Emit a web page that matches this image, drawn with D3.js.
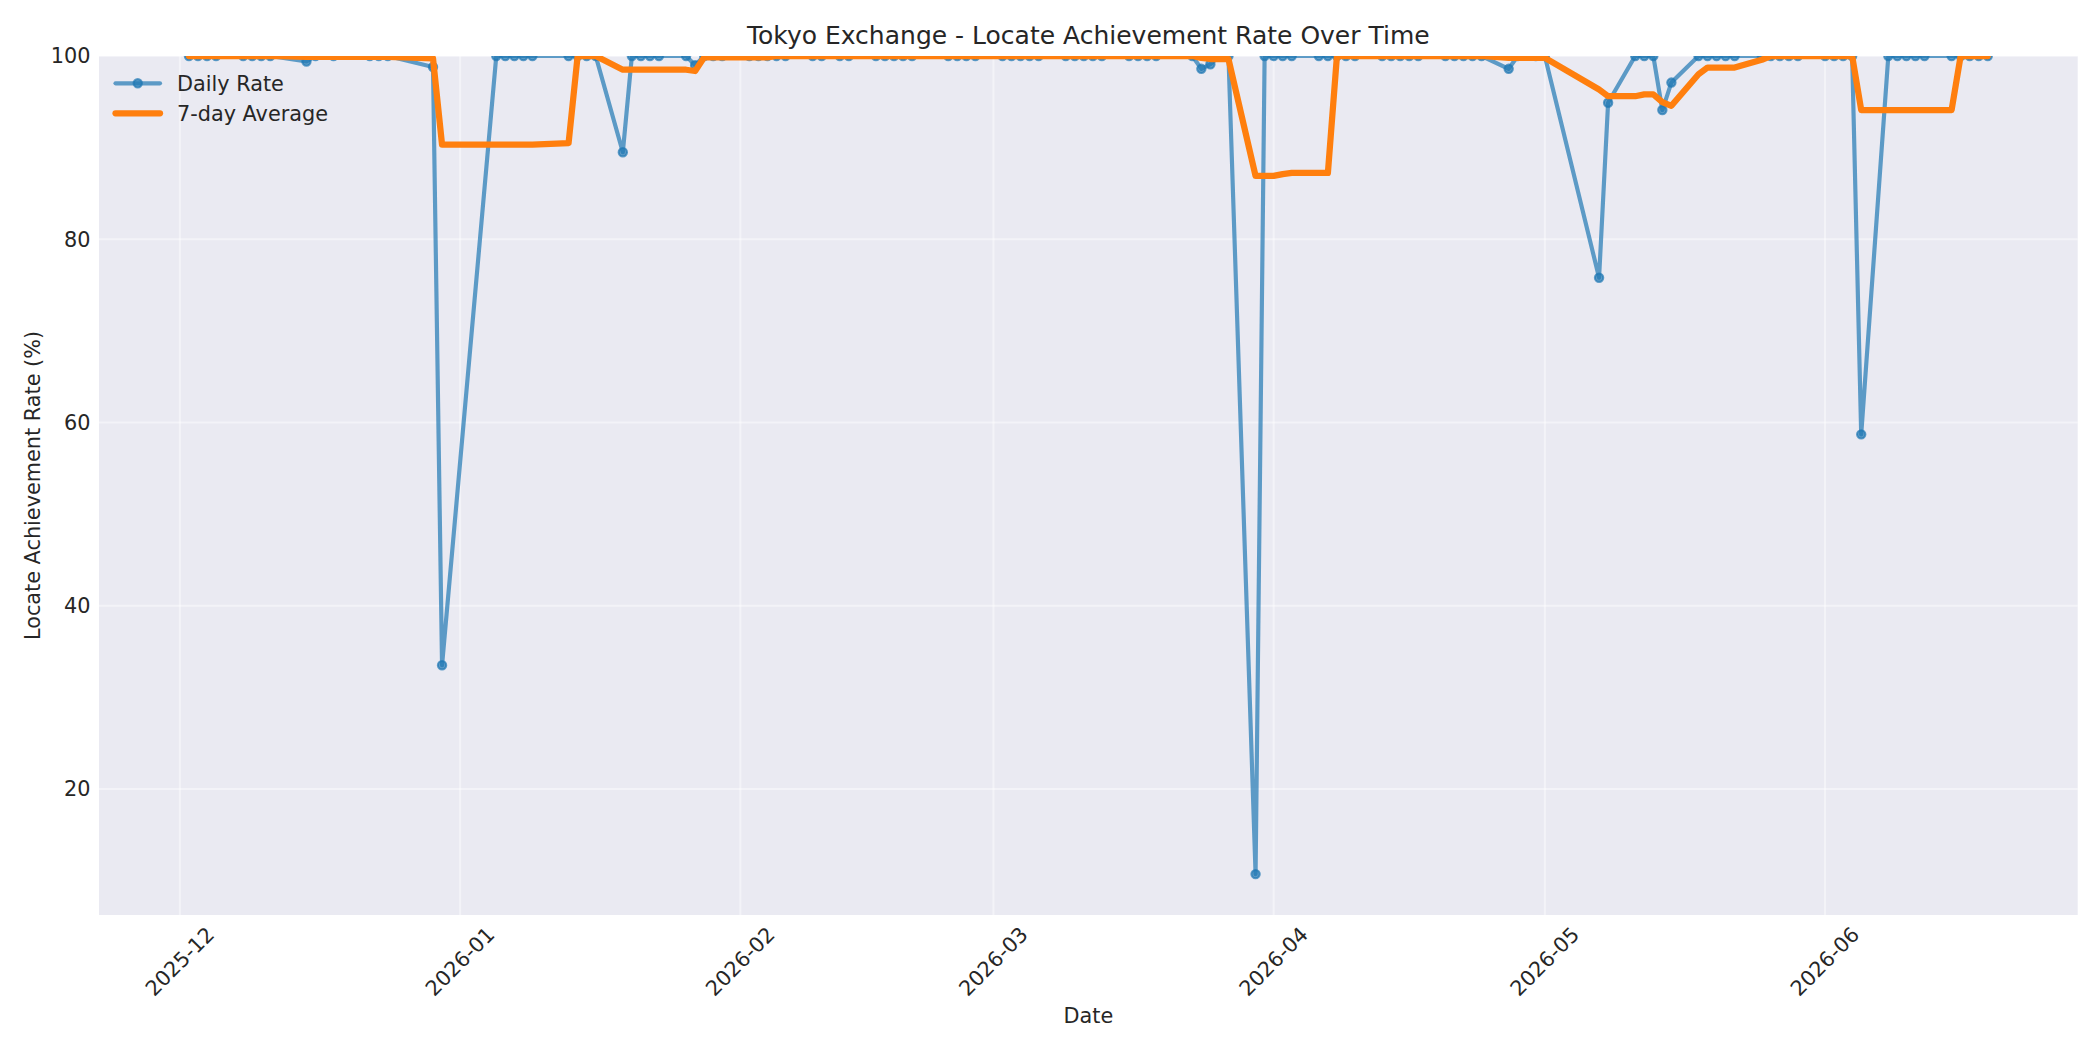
<!DOCTYPE html>
<html>
<head>
<meta charset="utf-8">
<script src="https://cdn.jsdelivr.net/npm/d3@7"></script>
<style>
  body { margin: 0; background: #ffffff; }
  text { font-family: "DejaVu Sans", sans-serif; fill: #262626; }
</style>
</head>
<body>
<svg id="chart" width="2100" height="1050"></svg>
<script>
// trading days (Tokyo calendar)
const dates = [
  "2025-12-02","2025-12-03","2025-12-04","2025-12-05","2025-12-08","2025-12-09","2025-12-10","2025-12-11",
  "2025-12-15","2025-12-16","2025-12-18","2025-12-22","2025-12-23","2025-12-24","2025-12-29","2025-12-30",
  "2026-01-05","2026-01-06","2026-01-07","2026-01-08","2026-01-09","2026-01-13","2026-01-14","2026-01-15",
  "2026-01-16","2026-01-19","2026-01-20","2026-01-21","2026-01-22","2026-01-23","2026-01-26","2026-01-27",
  "2026-01-28","2026-01-29","2026-01-30",
  "2026-02-02","2026-02-03","2026-02-04","2026-02-05","2026-02-06","2026-02-09","2026-02-10","2026-02-12",
  "2026-02-13","2026-02-16","2026-02-17","2026-02-18","2026-02-19","2026-02-20","2026-02-24","2026-02-25",
  "2026-02-26","2026-02-27",
  "2026-03-02","2026-03-03","2026-03-04","2026-03-05","2026-03-06","2026-03-09","2026-03-10","2026-03-11",
  "2026-03-12","2026-03-13","2026-03-16","2026-03-17","2026-03-18","2026-03-19","2026-03-23","2026-03-24",
  "2026-03-25","2026-03-26","2026-03-27","2026-03-30","2026-03-31",
  "2026-04-01","2026-04-02","2026-04-03","2026-04-06","2026-04-07","2026-04-08","2026-04-09","2026-04-10",
  "2026-04-13","2026-04-14","2026-04-15","2026-04-16","2026-04-17","2026-04-20","2026-04-21","2026-04-22",
  "2026-04-23","2026-04-24","2026-04-27","2026-04-28","2026-04-30",
  "2026-05-01","2026-05-07","2026-05-08","2026-05-11","2026-05-12","2026-05-13","2026-05-14","2026-05-15",
  "2026-05-18","2026-05-19","2026-05-20","2026-05-21","2026-05-22","2026-05-25","2026-05-26","2026-05-27",
  "2026-05-28","2026-05-29",
  "2026-06-01","2026-06-02","2026-06-03","2026-06-04","2026-06-05","2026-06-08","2026-06-09","2026-06-10",
  "2026-06-11","2026-06-12","2026-06-15","2026-06-16","2026-06-17","2026-06-18","2026-06-19"
];

const dailyRate = [
  // Dec
  100,100,100,100,100,100,100,100,99.4,100,100,100,100,100,98.8,33.5,
  // Jan
  100,100,100,100,100,100,100,100,100,89.5,100,100,100,100,100,99.0,100,100,100,
  // Feb
  100,100,100,100,100,100,100,100,100,100,100,100,100,100,100,100,100,100,
  // Mar
  100,100,100,100,100,100,100,100,100,100,100,100,100,100,100,98.6,99.1,100,100,10.7,100,
  // Apr
  100,100,100,100,100,100,100,100,100,100,100,100,100,100,100,100,100,100,98.6,100,100,
  // May
  100,75.8,94.9,100,100,100,94.1,97.1,100,100,100,100,100,100,100,100,100,100,
  // Jun
  100,100,100,100,58.7,100,100,100,100,100,100,100,100,100,100
];

const avgRate = [
  // Dec
  100,100,100,100,100,100,100,100,99.91,99.91,99.91,99.91,99.91,99.91,99.74,90.33,
  // Jan
  90.33,90.33,90.33,90.33,90.33,90.5,100,100,100,98.5,98.5,98.5,98.5,98.5,98.5,98.36,99.86,99.86,99.86,
  // Feb
  99.86,99.86,99.86,100,100,100,100,100,100,100,100,100,100,100,100,100,100,100,
  // Mar
  100,100,100,100,100,100,100,100,100,100,100,100,100,100,100,99.8,99.67,99.67,99.67,86.91,86.91,
  // Apr
  86.91,87.11,87.24,87.24,87.24,100,100,100,100,100,100,100,100,100,100,100,100,100,99.8,99.8,99.8,
  // May
  99.8,96.34,95.61,95.61,95.81,95.81,94.97,94.56,98.01,98.74,98.74,98.74,98.74,99.59,100,100,100,100,
  // Jun
  100,100,100,100,94.1,94.1,94.1,94.1,94.1,94.1,94.1,100,100,100,100
];

const monthTicks = ["2025-12","2026-01","2026-02","2026-03","2026-04","2026-05","2026-06"];
const yTicks = [20, 40, 60, 80, 100];
const seriesNames = ["Daily Rate", "7-day Average"];
const colors = ["#1f77b4", "#ff7f0e"];

const parseDay = d3.utcParse("%Y-%m-%d");
const parseMonth = d3.utcParse("%Y-%m");

const rows = dates.map((d, i) => ({ date: parseDay(d), daily: dailyRate[i], avg: avgRate[i] }));

const plot = { left: 99, right: 2077.7, top: 56, bottom: 915 };
const fontSize = 20.8;

const svg = d3.select("#chart");
svg.append("rect").attr("width", 2100).attr("height", 1050).attr("fill", "#ffffff");

// scales with matplotlib-like 5% margins
const t0 = rows[0].date, t1 = rows[rows.length - 1].date;
const pad = (t1 - t0) * 0.05;
const x = d3.scaleUtc()
  .domain([new Date(+t0 - pad), new Date(+t1 + pad)])
  .range([plot.left, plot.right]);

const yMin = d3.min(dailyRate);
const y = d3.scaleLinear()
  .domain([yMin - 0.05 * (100 - yMin), 100])
  .range([plot.bottom, plot.top]);

svg.append("rect")
  .attr("x", plot.left).attr("y", plot.top)
  .attr("width", plot.right - plot.left).attr("height", plot.bottom - plot.top)
  .attr("fill", "#eaeaf2");

svg.append("clipPath").attr("id", "clip")
  .append("rect")
  .attr("x", plot.left).attr("y", plot.top)
  .attr("width", plot.right - plot.left).attr("height", plot.bottom - plot.top);

// grid
const grid = svg.append("g").attr("stroke", "#ffffff").attr("stroke-width", 2).attr("stroke-opacity", 0.45);
grid.selectAll(".vg").data(monthTicks).enter().append("line")
  .attr("x1", d => x(parseMonth(d))).attr("x2", d => x(parseMonth(d)))
  .attr("y1", plot.top).attr("y2", plot.bottom);
grid.selectAll(".hg").data(yTicks).enter().append("line")
  .attr("x1", plot.left).attr("x2", plot.right)
  .attr("y1", d => y(d)).attr("y2", d => y(d));

// y tick labels
svg.append("g").selectAll("text").data(yTicks).enter().append("text")
  .attr("x", plot.left - 8.5)
  .attr("y", d => y(d))
  .attr("dy", "0.36em")
  .attr("text-anchor", "end")
  .attr("font-size", fontSize)
  .text(d => d);

// x tick labels, rotated 45deg, centred under the tick
svg.append("g").selectAll("text").data(monthTicks).enter().append("text")
  .attr("font-size", fontSize)
  .attr("text-anchor", "middle")
  .attr("dominant-baseline", "central")
  .text(d => d)
  .attr("transform", function (d) {
    const w = this.getComputedTextLength();
    const bh = (w + fontSize * 1.164) * Math.SQRT1_2;
    return "translate(" + x(parseMonth(d)) + "," + (plot.bottom + 7.3 + bh / 2) + ") rotate(-45)";
  });

// axis labels and title
svg.append("text")
  .attr("x", (plot.left + plot.right) / 2).attr("y", 1023)
  .attr("text-anchor", "middle").attr("font-size", fontSize)
  .text("Date");

svg.append("text")
  .attr("transform", "translate(39.5," + (plot.top + plot.bottom) / 2 + ") rotate(-90)")
  .attr("text-anchor", "middle").attr("font-size", fontSize)
  .text("Locate Achievement Rate (%)");

svg.append("text")
  .attr("x", (plot.left + plot.right) / 2).attr("y", 43.5)
  .attr("text-anchor", "middle").attr("font-size", 25)
  .text("Tokyo Exchange - Locate Achievement Rate Over Time");

// series
const marks = svg.append("g").attr("clip-path", "url(#clip)");

const dailyLine = d3.line().x(d => x(d.date)).y(d => y(d.daily));
const avgLine = d3.line().x(d => x(d.date)).y(d => y(d.avg));

marks.append("path")
  .datum(rows)
  .attr("d", dailyLine)
  .attr("fill", "none")
  .attr("stroke", colors[0])
  .attr("stroke-width", 4.17)
  .attr("stroke-opacity", 0.7)
  .attr("stroke-linejoin", "round")
  .attr("stroke-linecap", "round");

marks.append("g").selectAll("circle").data(rows).enter().append("circle")
  .attr("cx", d => x(d.date))
  .attr("cy", d => y(d.daily))
  .attr("r", 4.17)
  .attr("fill", colors[0]).attr("fill-opacity", 0.7)
  .attr("stroke", colors[0]).attr("stroke-opacity", 0.7)
  .attr("stroke-width", 2.08);

marks.append("path")
  .datum(rows)
  .attr("d", avgLine)
  .attr("fill", "none")
  .attr("stroke", colors[1])
  .attr("stroke-width", 6.25)
  .attr("stroke-linejoin", "round")
  .attr("stroke-linecap", "round");

// legend
const legend = svg.append("g").selectAll("g").data(seriesNames).enter().append("g")
  .attr("transform", (d, i) => "translate(0," + (83.3 + i * 30) + ")");

legend.append("line")
  .attr("x1", 115.5).attr("x2", 160)
  .attr("stroke", (d, i) => colors[i])
  .attr("stroke-width", (d, i) => i === 0 ? 4.17 : 6.25)
  .attr("stroke-opacity", (d, i) => i === 0 ? 0.7 : 1)
  .attr("stroke-linecap", "round");

legend.filter((d, i) => i === 0).append("circle")
  .attr("cx", 137.75).attr("cy", 0).attr("r", 4.17)
  .attr("fill", colors[0]).attr("fill-opacity", 0.7)
  .attr("stroke", colors[0]).attr("stroke-opacity", 0.7).attr("stroke-width", 2.08);

legend.append("text")
  .attr("x", 177)
  .attr("dy", "0.36em")
  .attr("font-size", fontSize)
  .text(d => d);
</script>
</body>
</html>
